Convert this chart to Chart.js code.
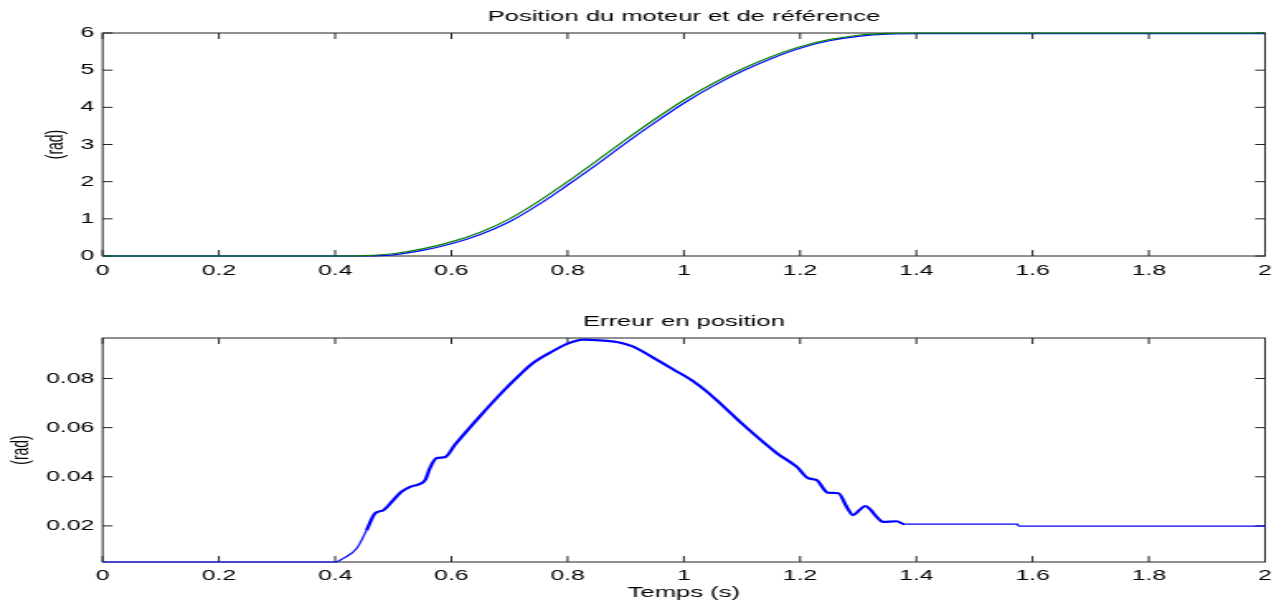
<!DOCTYPE html>
<html>
<head>
<meta charset="utf-8">
<script src="https://cdn.jsdelivr.net/npm/chart.js@4"></script>
<style>
  body { margin: 0; background: #fff; }
  canvas { position: absolute; left: 0; transform: scaleX(1.6504); transform-origin: 0 0; }
  #pos { top: 0; }
  #err { top: 295px; }
</style>
</head>
<body>
<canvas id="pos" width="778" height="290"></canvas>
<canvas id="err" width="778" height="313"></canvas>
<script>
// temps (s) et positions (rad)
const tPos = [0, 0.40, 0.45, 0.50, 0.55, 0.60, 0.65, 0.70, 0.75, 0.80, 0.85, 0.90, 0.95, 1.00, 1.05, 1.10, 1.15, 1.20, 1.25, 1.30, 1.35, 1.40, 2.0];
const posRef = [0, 0, 0.01, 0.06, 0.19, 0.38, 0.64, 1.00, 1.47, 2.00, 2.56, 3.13, 3.68, 4.19, 4.64, 5.03, 5.36, 5.63, 5.82, 5.94, 5.99, 6.0, 6.0];
const posMoteur = [0, 0, 0.00, 0.03, 0.15, 0.33, 0.58, 0.92, 1.38, 1.91, 2.46, 3.04, 3.59, 4.11, 4.57, 4.97, 5.31, 5.59, 5.79, 5.91, 5.97, 5.98, 5.98];

// erreur en position
const tErr = [0, 0.40, 0.414, 0.437, 0.454, 0.4685, 0.483, 0.50, 0.514, 0.53, 0.546, 0.555, 0.563, 0.5747, 0.589, 0.606,
  0.649, 0.689, 0.718, 0.741, 0.775, 0.801, 0.827, 0.856, 0.887, 0.913, 0.947, 0.982, 1.016, 1.039, 1.062, 1.102,
  1.160, 1.194, 1.214, 1.228, 1.248, 1.266, 1.280, 1.291, 1.302, 1.312, 1.322, 1.329, 1.343, 1.366, 1.380, 1.574, 1.576, 2.0];
const erreur = [0.0053, 0.0053, 0.0068, 0.0108, 0.0182, 0.0251, 0.0264, 0.0305, 0.0339, 0.0360, 0.0371, 0.0387, 0.0435, 0.0476, 0.0480, 0.0530,
  0.0646, 0.0748, 0.0816, 0.0864, 0.0912, 0.0943, 0.0958, 0.0955, 0.0948, 0.0930, 0.0885, 0.0837, 0.0789, 0.0748, 0.0700, 0.0612,
  0.0496, 0.0441, 0.0394, 0.0387, 0.0335, 0.0333, 0.0278, 0.0244, 0.0264, 0.0281, 0.0264, 0.0244, 0.0216, 0.0219, 0.0207, 0.0207, 0.0199, 0.0199];

const xTicks = [0, 0.2, 0.4, 0.6, 0.8, 1, 1.2, 1.4, 1.6, 1.8, 2];
const yTicksPos = [0, 1, 2, 3, 4, 5, 6];
const yTicksErr = [0.02, 0.04, 0.06, 0.08];

Chart.defaults.font.family = "'Liberation Sans', Arial, sans-serif";
Chart.defaults.color = '#000';

const AXE = '#222';

// cadre + graduations vers l'intérieur (style matlab)
const cadre = {
  id: 'cadre',
  beforeDatasetsDraw(chart) {
    const { ctx, chartArea: a, scales: { x, y } } = chart;
    ctx.save();
    ctx.strokeStyle = AXE;
    ctx.lineWidth = 1;
    ctx.beginPath();
    x.ticks.forEach(t => {
      const px = x.getPixelForValue(t.value);
      ctx.moveTo(px, a.bottom); ctx.lineTo(px, a.bottom - 6);
      ctx.moveTo(px, a.top); ctx.lineTo(px, a.top + 6);
    });
    y.ticks.forEach(t => {
      const py = y.getPixelForValue(t.value);
      ctx.moveTo(a.left, py); ctx.lineTo(a.left + 6, py);
      ctx.moveTo(a.right, py); ctx.lineTo(a.right - 6, py);
    });
    ctx.stroke();
    ctx.strokeRect(a.left, a.top, a.width, a.height);
    ctx.restore();
  }
};

function axeX(h, pad, titre) {
  return {
    type: 'linear', min: 0, max: 2,
    afterBuildTicks: s => { s.ticks = xTicks.map(v => ({ value: v })); },
    afterFit: s => { s.height = h; },
    grid: { display: false, drawTicks: false },
    border: { display: false },
    ticks: { padding: pad, font: { size: 15 }, autoSkip: false, maxRotation: 0,
             callback: v => String(+v.toFixed(1)) },
    title: titre ? { display: true, text: titre, font: { size: 15.5 }, padding: { top: 0, bottom: 6.2 } } : { display: false }
  };
}

function axeY(min, max, ticks, fmt, titrePad) {
  return {
    min: min, max: max,
    afterBuildTicks: s => { s.ticks = ticks.map(v => ({ value: v })); },
    afterFit: s => { s.width = 62.2; },
    grid: { display: false, drawTicks: false },
    border: { display: false },
    ticks: { padding: 5, font: { size: 15 }, callback: fmt },
    title: { display: true, text: '(rad)', font: { size: 14, family: "'Liberation Sans Narrow', 'Liberation Sans', sans-serif" }, padding: { top: titrePad, bottom: 0 } }
  };
}

new Chart(document.getElementById('pos'), {
  type: 'line',
  data: {
    datasets: [
      {
        label: 'Référence',
        data: tPos.map((t, i) => ({ x: t, y: posRef[i] })),
        borderColor: '#008000', borderWidth: 1.2, pointRadius: 0,
        cubicInterpolationMode: 'monotone', clip: false, order: 0
      },
      {
        label: 'Moteur',
        data: tPos.map((t, i) => ({ x: t, y: posMoteur[i] })),
        borderColor: '#0000ff', borderWidth: 1.2, pointRadius: 0,
        cubicInterpolationMode: 'monotone', clip: false, order: 1
      }
    ]
  },
  options: {
    responsive: false,
    animation: false,
    layout: { padding: { left: 0, right: 11.5, top: 0, bottom: 0 } },
    scales: {
      x: axeX(34, 6),
      y: axeY(0, 6, yTicksPos, v => String(v), 26)
    },
    plugins: {
      legend: { display: false },
      tooltip: { enabled: false },
      title: {
        display: true, fullSize: false,
        text: 'Position du moteur et de référence',
        font: { size: 15.5, weight: 'normal' }, color: '#000',
        padding: { top: 7.7, bottom: 6.7 }
      }
    }
  },
  plugins: [cadre]
});

new Chart(document.getElementById('err'), {
  type: 'line',
  data: {
    datasets: [{
      label: 'Erreur',
      data: tErr.map((t, i) => ({ x: t, y: erreur[i] })),
      borderColor: '#0000ff', borderWidth: 1.2, pointRadius: 0,
      cubicInterpolationMode: 'monotone', clip: false,
      segment: {
        borderWidth: c => (c.p0.parsed.x >= 0.44 && c.p0.parsed.x < 1.37) ? 2.2 : 1.2
      }
    }]
  },
  options: {
    responsive: false,
    animation: false,
    layout: { padding: { left: 0, right: 11.5, top: 0, bottom: 0 } },
    scales: {
      x: axeX(46, 4.5, 'Temps (s)'),
      y: axeY(0.0053, 0.0965, yTicksErr, v => v.toFixed(2), 4.3)
    },
    plugins: {
      legend: { display: false },
      tooltip: { enabled: false },
      title: {
        display: true, fullSize: false,
        text: 'Erreur en position',
        font: { size: 15.5, weight: 'normal' }, color: '#000',
        padding: { top: 17.4, bottom: 7 }
      }
    }
  },
  plugins: [cadre]
});
</script>
</body>
</html>
